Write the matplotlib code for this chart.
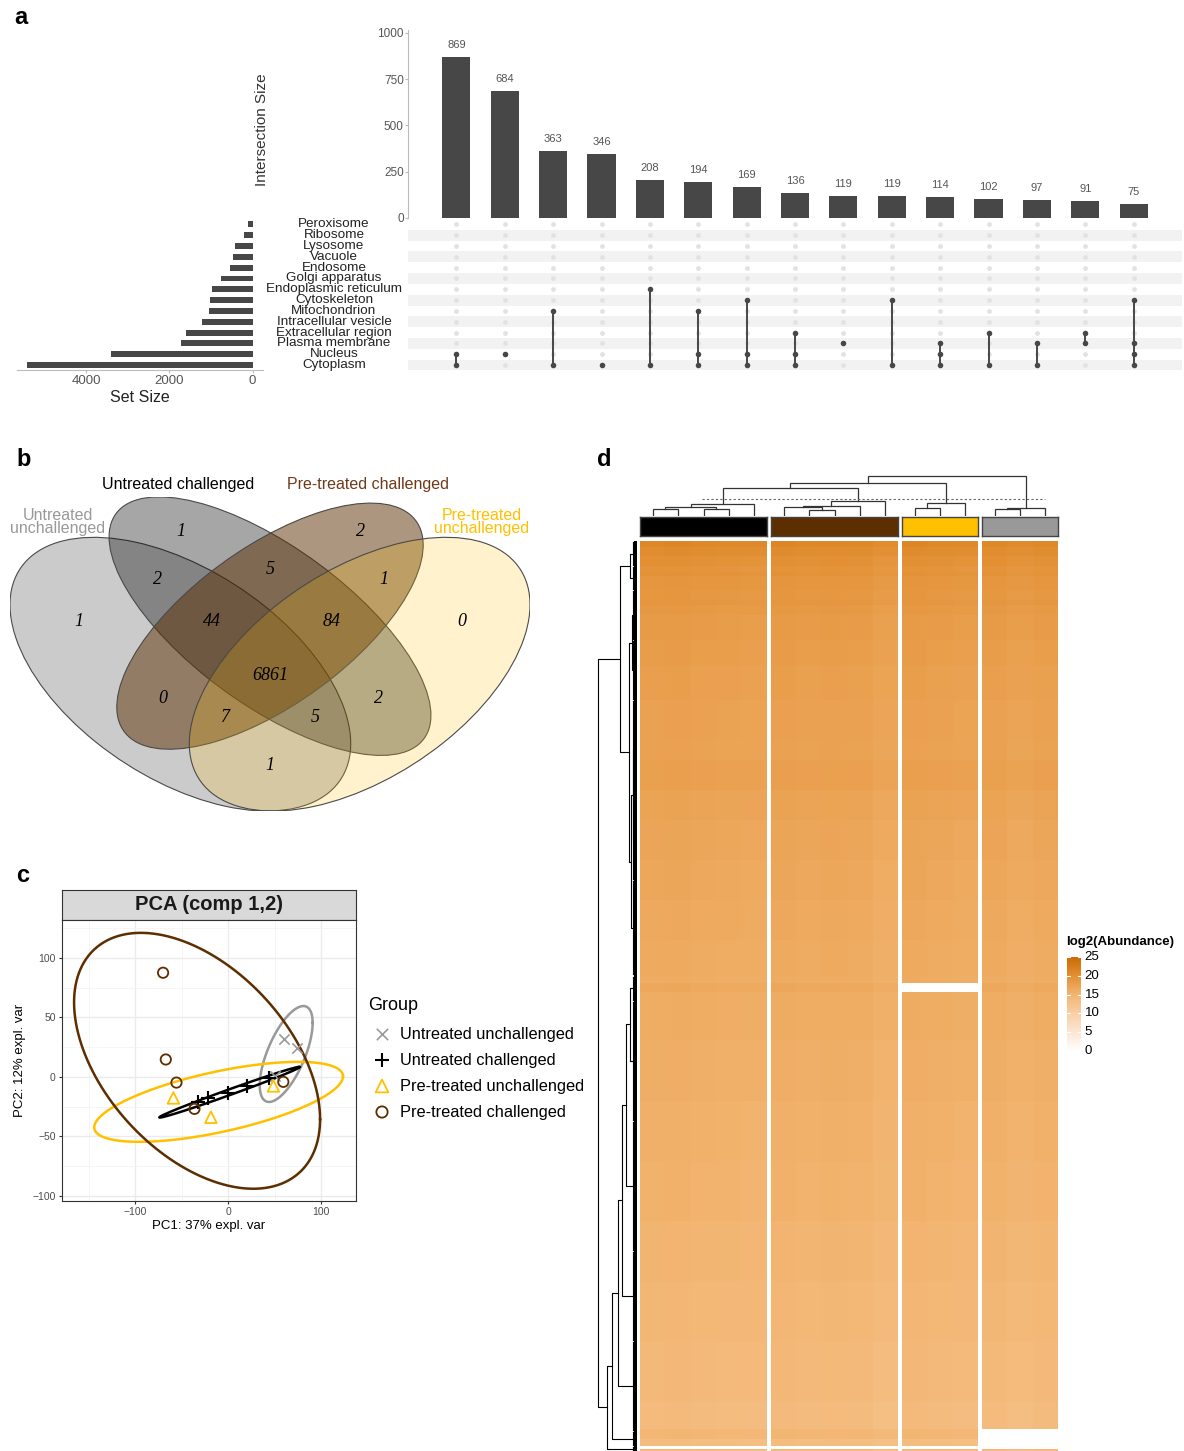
import numpy as np
import matplotlib.pyplot as plt
from matplotlib.colors import LinearSegmentedColormap
from matplotlib.patches import Ellipse
import matplotlib.transforms as mtransforms

plt.rcParams['font.family'] = ['Liberation Sans', 'DejaVu Sans']

W, H = 1184, 1451
fig = plt.figure(figsize=(W / 100, H / 100), dpi=100)


def box(x0, y0, x1, y1):
    # axes placed in pixel coordinates, origin top-left
    return fig.add_axes([x0 / W, 1 - y1 / H, (x1 - x0) / W, (y1 - y0) / H])


def ftext(x, y, s, **kw):
    return fig.text(x / W, 1 - y / H, s, **kw)


# ---------------- data ----------------
sets = ["Peroxisome", "Ribosome", "Lysosome", "Vacuole", "Endosome",
        "Golgi apparatus", "Endoplasmic reticulum", "Cytoskeleton",
        "Mitochondrion", "Intracellular vesicle", "Extracellular region",
        "Plasma membrane", "Nucleus", "Cytoplasm"]
set_sizes = [120, 200, 420, 460, 545, 760, 975, 1025, 1040, 1210, 1610,
             1710, 3390, 5410]
inter_sizes = [869, 684, 363, 346, 208, 194, 169, 136, 119, 119, 114, 102,
               97, 91, 75]
inter_members = [
    ["Nucleus", "Cytoplasm"],
    ["Nucleus"],
    ["Mitochondrion", "Cytoplasm"],
    ["Cytoplasm"],
    ["Endoplasmic reticulum", "Cytoplasm"],
    ["Mitochondrion", "Nucleus", "Cytoplasm"],
    ["Cytoskeleton", "Nucleus", "Cytoplasm"],
    ["Extracellular region", "Nucleus", "Cytoplasm"],
    ["Plasma membrane"],
    ["Cytoskeleton", "Cytoplasm"],
    ["Plasma membrane", "Nucleus", "Cytoplasm"],
    ["Extracellular region", "Cytoplasm"],
    ["Plasma membrane", "Cytoplasm"],
    ["Extracellular region", "Plasma membrane"],
    ["Cytoskeleton", "Plasma membrane", "Nucleus", "Cytoplasm"],
]

groups = ["Untreated unchallenged", "Untreated challenged",
          "Pre-treated unchallenged", "Pre-treated challenged"]
group_colors = {"Untreated unchallenged": "#999999",
                "Untreated challenged": "#000000",
                "Pre-treated unchallenged": "#FFC000",
                "Pre-treated challenged": "#5C2E00"}

# Venn regions: membership code (UU, UC, PC, PU) -> count
venn_regions = ["1000", "0100", "0010", "0001", "1100", "0110", "0011",
                "1110", "0111", "1111", "1010", "0101", "1011", "1101",
                "1001"]
venn_counts = [1, 1, 2, 0, 2, 5, 1, 44, 84, 6861, 0, 2, 7, 5, 1]

# PCA scores
pca_x = {"Untreated unchallenged": [60.6, 73.8, 50.0],
         "Untreated challenged": [-32.0, -21.9, 0.0, 20.6, 44.0],
         "Pre-treated unchallenged": [-59.0, -18.6, 48.7],
         "Pre-treated challenged": [-70.1, -67.2, -55.7, -36.3, 59.4]}
pca_y = {"Untreated unchallenged": [31.7, 24.4, 1.0],
         "Untreated challenged": [-21.0, -17.4, -13.2, -7.6, -0.8],
         "Pre-treated unchallenged": [-17.7, -33.9, -7.6],
         "Pre-treated challenged": [87.5, 14.6, -4.8, -26.9, -4.2]}
# group ellipses: centre x, centre y, sd x, sd y, correlation
pca_ell = {"Untreated unchallenged": (62.5, 19.2, 28.5, 40.3, 0.649),
           "Untreated challenged": (1.4, -12.9, 75.6, 21.3, 0.993),
           "Pre-treated unchallenged": (-10.3, -21.0, 134.0, 33.6, 0.637),
           "Pre-treated challenged": (-33.5, 13.5, 132.5, 107.5, -0.457)}

# heatmap: row bands (row index edges) and log2 abundance per band
n_rows = 7016
band_edges = [0, 46, 116, 193, 239, 270, 378, 455, 494, 571, 764, 957, 1227,
              1536, 1690, 1922, 2153, 2462, 2771, 3079, 3350, 3411, 3481,
              3851, 4314, 4777, 5240, 5704, 6167, 6630, 6846, 6923, 6977,
              7000, 7016]
band_vals = [21.0, 20.4, 19.8, 19.4, 19.6, 19.1, 18.8, 19.0, 18.6, 18.3,
             18.1, 17.8, 17.5, 17.4, 17.7, 17.2, 16.9, 16.7, 16.5, 16.3,
             16.1, 16.6, 16.1, 15.8, 15.5, 15.3, 14.9, 14.5, 14.1, 13.7,
             14.6, 13.4, np.nan, 13.9]
heat_groups = ["Untreated challenged", "Pre-treated challenged",
               "Pre-treated unchallenged", "Untreated unchallenged"]
col_offsets = {"Untreated challenged": [0.0, 0.1, -0.1, -0.2, -0.3],
               "Pre-treated challenged": [0.1, -0.1, 0.0, -0.1, -0.6],
               "Pre-treated unchallenged": [0.1, -0.1, -0.3],
               "Untreated unchallenged": [0.0, -0.4, -0.1]}
missing_bands = {"Pre-treated unchallenged": [21],
                 "Untreated unchallenged": [30, 31]}

# sample dendrogram: (left, right, height), leaves are column numbers
col_tree = (((((((0, 1, 7.0), (2, 3, 7.0), 8.7), 4, 11.7),
               (((5, (6, 7, 6.0), 8.7), 8, 10.3), 9, 14.7), 28.3),
              ((10, 11, 8.3), 12, 12.7), 33.3),
             ((13, 14, 7.0), 15, 8.3), 40.3))
col_cut = 16.7

# protein dendrogram over row clusters
row_clusters = [(0, 193), (193, 378), (378, 764), (764, 1227), (1227, 1999),
                (1999, 2617), (2617, 3350), (3350, 3543), (3543, 4469),
                (4469, 5473), (5473, 6168), (6168, 6863), (6863, 6979),
                (6979, 7016)]
row_tree = (((0, 1, 8), ((2, 3, 6), ((4, 5, 5), 6, 7), 9), 18),
            ((((((7, 8, 8), 9, 12), 10, 16), 11, 20), 12, 25), 13, 30), 39)

# ---------------- panel a: UpSet ----------------
ftext(14, 18, "a", fontsize=17, fontweight='bold', va='center')
bar_col = '#474747'

axb = box(408, 30, 1182, 218)
xs = np.arange(len(inter_sizes))
axb.bar(xs, inter_sizes, width=0.58, color=bar_col)
for x, v in zip(xs, inter_sizes):
    axb.annotate(str(v), (x, v), xytext=(0, 5), textcoords='offset points',
                 ha='center', va='bottom', fontsize=8, color='#555555')
axb.set_xlim(-1, 15)
axb.set_ylim(0, 1016)
axb.set_yticks([0, 250, 500, 750, 1000])
axb.set_xticks([])
for s in ['top', 'right', 'bottom']:
    axb.spines[s].set_visible(False)
axb.spines['left'].set_color('#BBBBBB')
axb.tick_params(axis='y', labelsize=8.5, labelcolor='#555555',
                color='#BBBBBB', length=2, pad=1)
ftext(262, 130, "Intersection Size", rotation=90, ha='center', va='center',
      fontsize=11, color='#333333')

axm = box(408, 219, 1182, 370.4)
axm.set_xlim(-1, 15)
axm.set_ylim(13.5, -0.5)
axm.axis('off')
for r in range(len(sets)):
    if r % 2 == 1:
        axm.axhspan(r - 0.5, r + 0.5, color='#F2F2F2', lw=0)
gx, gy = np.meshgrid(xs, np.arange(len(sets)))
axm.scatter(gx.ravel(), gy.ravel(), s=12, color='#E2E2E2', lw=0, zorder=2)
for x, mem in zip(xs, inter_members):
    rows = [sets.index(m) for m in mem]
    axm.plot([x, x], [min(rows), max(rows)], color=bar_col, lw=1.4, zorder=3)
    axm.scatter([x] * len(rows), rows, s=16, color=bar_col, lw=0, zorder=4)

tr = mtransforms.blended_transform_factory(fig.transFigure, axm.transData)
for r, name in enumerate(sets):
    axm.text(334 / W, r, name, transform=tr, ha='center', va='center',
             fontsize=9.7, color='#222222')

axs = box(17, 219, 263, 370.4)
axs.barh(np.arange(len(sets)), set_sizes, height=0.55, color=bar_col)
axs.set_xlim(5660, -250)
axs.set_ylim(13.5, -0.5)
axs.set_yticks([])
axs.set_xticks([4000, 2000, 0])
for s in ['top', 'right', 'left']:
    axs.spines[s].set_visible(False)
axs.spines['bottom'].set_color('#BBBBBB')
axs.tick_params(axis='x', labelsize=9.5, labelcolor='#555555',
                color='#BBBBBB', length=2, pad=1)
ftext(140, 398, "Set Size", ha='center', va='center', fontsize=11.5,
      color='#222222')

# ---------------- panel b: Venn ----------------
ftext(16, 460, "b", fontsize=17, fontweight='bold', va='center')
axv = box(10, 497, 530, 811)
axv.set_xlim(0.065, 0.935)
axv.set_ylim(0.185, 0.839)
axv.axis('off')
venn_shapes = [("Untreated unchallenged", 0.35, 0.47, 0.35, 0.20, 135, 0.5),
               ("Untreated challenged", 0.50, 0.57, 0.35, 0.15, 135, 0.35),
               ("Pre-treated challenged", 0.50, 0.57, 0.33, 0.15, 45, 0.5),
               ("Pre-treated unchallenged", 0.65, 0.47, 0.35, 0.20, 45, 0.2)]
for g, cx, cy, a, b, rot, al in venn_shapes:
    axv.add_patch(Ellipse((cx, cy), 2 * a, 2 * b, angle=rot,
                          facecolor=group_colors[g], alpha=al, lw=0))
    axv.add_patch(Ellipse((cx, cy), 2 * a, 2 * b, angle=rot,
                          facecolor='none', edgecolor='#4A4A4A', lw=0.8))

venn_pos = {"1000": (79, 622), "0100": (181, 531), "0010": (360, 531),
            "0001": (462, 622), "1100": (157, 579), "0110": (270, 570),
            "0011": (384, 579), "1110": (212, 622), "0111": (332, 622),
            "1111": (270, 675), "1010": (163, 698), "0101": (378, 698),
            "1011": (225, 717), "1101": (315, 717), "1001": (270, 765)}
for code, n in zip(venn_regions, venn_counts):
    x, y = venn_pos[code]
    ftext(x, y, str(n), ha='center', va='center', fontsize=13,
          family='Liberation Serif', style='italic', color='black')

ftext(178, 484, "Untreated challenged", ha='center', va='center',
      fontsize=11.5, color='black')
ftext(368, 484, "Pre-treated challenged", ha='center', va='center',
      fontsize=11.5, color='#6E3B1A')
ftext(58, 522, "Untreated\nunchallenged", ha='center', va='center',
      fontsize=11.5, color='#999999', linespacing=0.85)
ftext(482, 522, "Pre-treated\nunchallenged", ha='center', va='center',
      fontsize=11.5, color='#FFC000', linespacing=0.85)

# ---------------- panel c: PCA ----------------
ftext(16, 876, "c", fontsize=17, fontweight='bold', va='center')
axst = box(62, 890, 356, 920)
axst.set_facecolor('#D9D9D9')
axst.set_xticks([])
axst.set_yticks([])
for s in axst.spines.values():
    s.set_color('#333333')
    s.set_linewidth(0.8)
axst.text(0.5, 0.5, "PCA (comp 1,2)", ha='center', va='center',
          fontsize=14.5, fontweight='bold', color='#1A1A1A')

axp = box(62, 920, 356, 1201)
axp.set_xlim(-179, 137.7)
axp.set_ylim(-104.3, 131.8)
axp.set_xticks([-100, 0, 100])
axp.set_yticks([-100, -50, 0, 50, 100])
axp.set_xticks([-150, -50, 50], minor=True)
axp.set_yticks([-75, -25, 25, 75, 125], minor=True)
axp.grid(which='major', color='#EBEBEB', lw=1.0)
axp.grid(which='minor', color='#F4F4F4', lw=0.6)
axp.set_axisbelow(True)
axp.tick_params(which='minor', length=0)
axp.tick_params(which='major', labelsize=7.5, labelcolor='#4D4D4D',
                length=2.5, color='#333333', pad=2)
for s in axp.spines.values():
    s.set_color('#333333')
    s.set_linewidth(0.8)

t = np.linspace(0, 2 * np.pi, 300)
for g in groups:
    cx, cy, sx, sy, rho = pca_ell[g]
    cov = np.array([[sx ** 2, rho * sx * sy], [rho * sx * sy, sy ** 2]])
    L = np.linalg.cholesky(cov)
    pts = L @ np.vstack([np.cos(t), np.sin(t)])
    axp.plot(cx + pts[0], cy + pts[1], color=group_colors[g], lw=1.8,
             zorder=3)

marker_style = {"Untreated unchallenged": dict(marker='x', s=55, lw=1.2),
                "Untreated challenged": dict(marker='+', s=90, lw=1.5),
                "Pre-treated unchallenged": dict(marker='^', s=70, lw=1.3,
                                                 facecolors='none'),
                "Pre-treated challenged": dict(marker='o', s=55, lw=1.3,
                                               facecolors='none')}
for g in groups:
    st = dict(marker_style[g])
    if st.get('facecolors') == 'none':
        axp.scatter(pca_x[g], pca_y[g], edgecolors=group_colors[g], zorder=4,
                    **st)
    else:
        axp.scatter(pca_x[g], pca_y[g], color=group_colors[g], zorder=4, **st)

ftext(209, 1226, "PC1: 37% expl. var", ha='center', va='center',
      fontsize=9.5)
ftext(20, 1060, "PC2: 12% expl. var", ha='center', va='center',
      fontsize=9.5, rotation=90)

# legend
axl = box(360, 990, 600, 1125)
axl.set_xlim(360, 600)
axl.set_ylim(1125, 990)
axl.axis('off')
axl.text(368, 1005, "Group", ha='left', va='center', fontsize=13)
for i, g in enumerate(groups):
    y = 1034 + 26 * i
    st = dict(marker_style[g])
    st['s'] = st['s'] * 1.2
    if st.get('facecolors') == 'none':
        axl.scatter([382], [y], edgecolors=group_colors[g], **st)
    else:
        axl.scatter([382], [y], color=group_colors[g], **st)
    axl.text(400, y, g, ha='left', va='center', fontsize=11.8)

# ---------------- panel d: heatmap ----------------
ftext(597, 460, "d", fontsize=17, fontweight='bold', va='center')
cmap = LinearSegmentedColormap.from_list(
    'abund', [(0.0, '#FFFFFF'), (0.2, '#FCE6D2'), (0.4, '#F9CFA4'),
              (0.6, '#F2B470'), (0.8, '#E28F33'), (1.0, '#C86A00')])
cmap.set_bad('white')

layout = [(640, 767), (771, 898), (902, 978), (982, 1058)]
vals = np.array(band_vals)
leaf_x = []
for g, (x0, x1) in zip(heat_groups, layout):
    offs = np.array(col_offsets[g])
    ncol = len(offs)
    M = vals[:, None] + offs[None, :]
    for b in missing_bands.get(g, []):
        M[b, :] = np.nan
    ax = box(x0, 541, x1, 1451)
    ax.pcolormesh(np.arange(ncol + 1), band_edges, M, cmap=cmap, vmin=0,
                  vmax=25, shading='flat')
    ax.set_ylim(n_rows, 0)
    ax.axis('off')
    cw = (x1 - x0) / ncol
    leaf_x += [x0 + cw * (i + 0.5) for i in range(ncol)]

    axa = box(x0, 517, x1, 536)
    axa.set_facecolor(group_colors[g])
    axa.set_xticks([])
    axa.set_yticks([])
    for s in axa.spines.values():
        s.set_color('#444444')
        s.set_linewidth(1.0)

# column dendrogram
axcd = box(640, 470, 1058, 516)
axcd.set_xlim(640, 1058)
axcd.set_ylim(0, 46)
axcd.axis('off')


def draw_col(node):
    if isinstance(node, int):
        return leaf_x[node], 0.0
    a, b, h = node
    xa, ha = draw_col(a)
    xb, hb = draw_col(b)
    axcd.plot([xa, xa, xb, xb], [ha, h, h, hb], color='#333333', lw=0.9,
              solid_joinstyle='miter')
    return (xa + xb) / 2, h


draw_col(col_tree)
axcd.plot([702, 1045], [col_cut, col_cut], color='#666666', lw=0.8,
          ls=(0, (2, 2)))

# row dendrogram
axrd = box(597, 541, 638, 1451)
axrd.set_xlim(40, 0)
axrd.set_ylim(n_rows, 0)
axrd.axis('off')
leaf_h = 5.0


def draw_row(node):
    if isinstance(node, int):
        r0, r1 = row_clusters[node]
        return (r0 + r1) / 2, leaf_h
    a, b, h = node
    ya, ha = draw_row(a)
    yb, hb = draw_row(b)
    axrd.plot([ha, h, h, hb], [ya, ya, yb, yb], color='black', lw=0.8)
    return (ya + yb) / 2, h


draw_row(row_tree)
for r0, r1 in row_clusters:
    axrd.plot([leaf_h, leaf_h], [r0 + 8, r1 - 8], color='black', lw=0.8)
    axrd.plot([leaf_h, 3.0], [r0 + 8, r0 + 8], color='black', lw=0.8)
    axrd.plot([leaf_h, 3.0], [r1 - 8, r1 - 8], color='black', lw=0.8)
axrd.fill_betweenx([0, n_rows], 0.8, 3.6, color='black', lw=0)

# colour legend
ftext(1066, 942, "log2(Abundance)", ha='left', va='center', fontsize=9.5,
      fontweight='bold')
axc = box(1067, 957, 1081, 1051)
axc.imshow(np.linspace(25, 0, 200)[:, None], aspect='auto', cmap=cmap,
           vmin=0, vmax=25, extent=(0, 1, 0, 25))
axc.set_xlim(0, 1)
axc.set_ylim(0, 25)
axc.axis('off')
for v in [0, 5, 10, 15, 20, 25]:
    axc.plot([0, 0.2], [v, v], color='white', lw=0.8)
    axc.plot([0.8, 1], [v, v], color='white', lw=0.8)
    axc.text(1.25, v, str(v), transform=axc.transData, ha='left',
             va='center', fontsize=9.5, clip_on=False)

fig.savefig("out.png", dpi=100)
